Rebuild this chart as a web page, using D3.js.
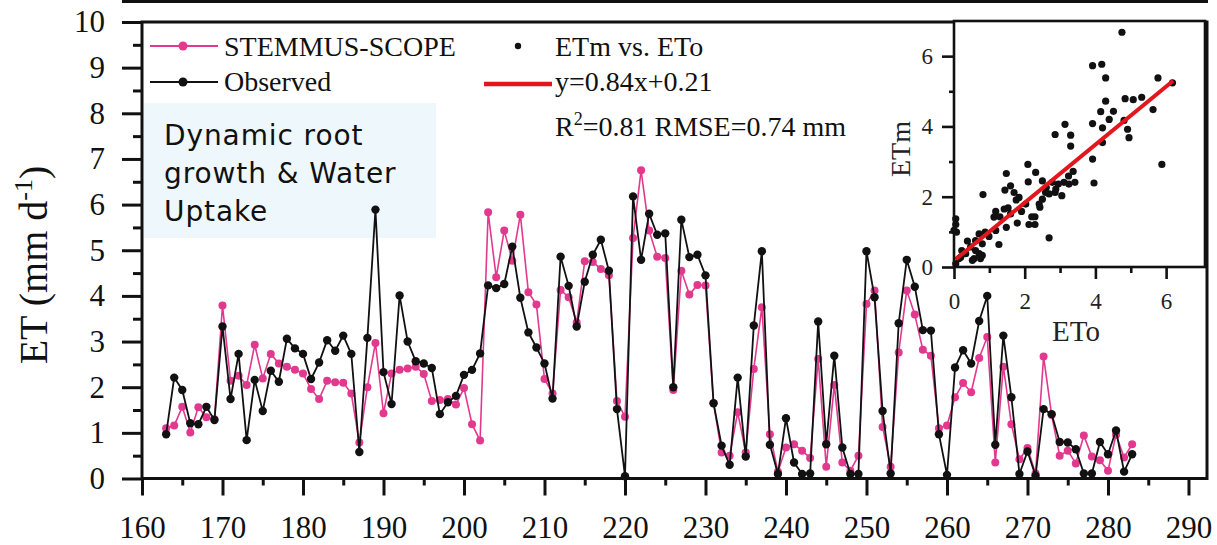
<!DOCTYPE html>
<html>
<head>
<meta charset="utf-8">
<script src="https://cdn.jsdelivr.net/npm/d3@7/dist/d3.min.js"></script>
<style>
  html, body { margin: 0; padding: 0; background: #fff; }
  svg { display: block; }
</style>
</head>
<body>
<svg id="chart" width="1217" height="545"></svg>
<script>
// ---------------- DATA ----------------
const days = d3.range(163, 284); // DOY 163..283
const observed = [
  0.97, 2.21, 1.94, 1.21, 1.19, 1.57, 1.28, 3.33, 1.74, 2.73,
  0.84, 2.16, 1.48, 2.36, 2.12, 3.06, 2.85, 2.73, 2.18, 2.54,
  3.03, 2.80, 3.13, 2.73, 0.58, 3.08, 5.89, 2.33, 1.63, 4.01,
  3.00, 2.57, 2.52, 2.42, 1.41, 1.67, 1.81, 2.27, 2.38, 2.74,
  4.23, 4.17, 4.26, 5.08, 3.96, 3.20, 2.87, 2.52, 1.75, 4.86,
  4.22, 3.33, 4.31, 4.90, 5.23, 4.55, 1.52, 0.05, 6.18, 4.79,
  5.80, 5.34, 5.37, 2.00, 5.67, 4.85, 4.90, 4.45, 1.65, 0.72,
  0.30, 2.21, 0.48, 3.35, 4.98, 0.74, 0.10, 1.32, 0.35, 0.10,
  0.11, 3.44, 0.75, 2.69, 0.68, 0.10, 0.10, 4.98, 3.97, 1.48,
  0.11, 3.40, 4.79, 4.20, 3.25, 3.24, 0.97, 0.08, 2.43, 2.81,
  2.52, 3.45, 4.00, 0.74, 3.13, 1.78, 0.10, 0.59, 0.06, 1.52,
  1.41, 0.80, 0.79, 0.64, 0.11, 0.11, 0.80, 0.53, 1.05, 0.15,
  0.53
];
const modelled = [
  1.10, 1.16, 1.57, 1.01, 1.56, 1.34, 1.30, 3.79, 2.14, 2.25,
  2.05, 2.93, 2.19, 2.73, 2.52, 2.45, 2.38, 2.30, 1.96, 1.74,
  2.14, 2.11, 2.10, 1.86, 0.79, 2.00, 2.97, 1.43, 2.30, 2.38,
  2.41, 2.45, 2.29, 1.70, 1.72, 1.74, 1.62, 1.98, 1.19, 0.83,
  5.83, 4.41, 5.43, 4.77, 5.78, 4.08, 3.81, 2.18, 1.86, 4.13,
  3.97, 3.42, 4.76, 4.74, 4.59, 4.45, 1.70, 1.35, 5.27, 6.75,
  5.43, 4.86, 4.83, 1.94, 4.55, 4.03, 4.24, 4.23, 1.65, 0.57,
  0.50, 1.45, 0.57, 2.40, 3.75, 0.97, 0.15, 0.68, 0.75, 0.61,
  0.45, 2.62, 0.26, 2.05, 0.35, 0.17, 0.50, 3.82, 4.12, 1.13,
  0.26, 2.76, 4.12, 3.59, 2.82, 2.69, 1.10, 1.16, 1.78, 2.09,
  1.89, 2.64, 3.10, 0.35, 2.45, 1.19, 0.42, 0.67, 0.11, 2.67,
  1.39, 0.50, 0.61, 0.33, 0.94, 0.48, 0.40, 0.17, 0.96, 0.46,
  0.75
];
// inset scatter: ETo (x) vs ETm (y)
const scatterETo = [
  4.75, 3.92, 4.18, 4.29, 5.77, 6.18, 4.84, 5.07, 5.31, 4.29,
  4.15, 4.51, 4.39, 5.63, 3.92, 4.20, 4.81, 4.91, 4.95, 3.14,
  2.86, 3.30, 3.30, 4.20, 3.92, 3.96, 5.88, 2.09, 2.31, 1.48,
  2.10, 2.50, 1.60, 1.44, 1.70, 0.82, 2.61, 2.78, 2.95, 3.11,
  3.24, 3.37, 3.42, 3.25, 3.05, 2.86, 2.69, 2.50, 2.41, 2.43,
  1.76, 1.91, 1.53, 1.42, 1.18, 1.30, 1.79, 1.48, 2.20, 2.29,
  2.12, 2.29, 2.69, 1.27, 1.18, 0.99, 0.88, 0.71, 0.61, 0.80,
  0.38, 0.47, 0.61, 0.71, 0.80, 0.57, 0.52, 0.75, 0.05, 0.05,
  0.07, 0.00, 0.14, 0.05, 0.22, 1.84, 2.03, 2.59, 2.88, 1.13,
  1.60, 0.33, 0.19
];
const scatterETm = [
  6.68, 5.73, 5.77, 5.38, 5.38, 5.24, 4.79, 4.76, 4.83, 4.72,
  4.42, 4.43, 4.20, 4.48, 4.08, 3.96, 4.17, 3.92, 3.68, 4.06,
  3.77, 3.75, 3.44, 3.54, 3.07, 2.39, 2.92, 2.92, 2.69, 2.66,
  2.42, 2.45, 2.31, 2.19, 2.12, 2.06, 2.26, 2.41, 2.36, 2.41,
  2.59, 2.72, 2.41, 2.36, 2.03, 2.12, 2.08, 1.93, 1.79, 1.70,
  1.91, 1.58, 1.68, 1.65, 1.58, 1.43, 1.25, 1.13, 1.43, 1.43,
  1.21, 1.21, 0.83, 0.64, 1.04, 0.87, 0.99, 0.94, 0.75, 0.66,
  0.74, 0.57, 0.47, 0.38, 0.33, 0.24, 0.19, 0.24, 1.37, 1.21,
  0.99, 1.04, 0.24, 0.09, 0.47, 1.98, 1.79, 2.12, 2.22, 1.42,
  1.51, 0.38, 0.28
];
// regression line end points (as drawn)
const fitETo = [0.05, 6.2];
const fitETm = [0.22, 5.3];

const xTicksMajor = d3.range(160, 291, 10);
const xTicksMinor = d3.range(165, 291, 10);
const yTicksMajor = d3.range(0, 11, 1);
const yTicksMinor = d3.range(0.5, 10, 1);
const insetTicksMajor = [0, 2, 4, 6];
const insetTicksMinor = [1, 3, 5];

// ---------------- DRAW ----------------
const PINK = "#e2398f";
const BLACK = "#111";
const RED = "#e3161d";
const SERIF = "'Liberation Serif', 'Times New Roman', serif";

const svg = d3.select("#chart");

const x = d3.scaleLinear().domain([160, 292.3]).range([142, 1207]);
const y = d3.scaleLinear().domain([0, 10]).range([478.5, 22]);

// remnant of upper panel
svg.append("line").attr("x1", 122).attr("x2", 1208).attr("y1", 1.5).attr("y2", 1.5)
  .attr("stroke", BLACK).attr("stroke-width", 3);

// annotation box
svg.append("rect").attr("x", 144).attr("y", 103).attr("width", 292).attr("height", 135)
  .attr("fill", "#eef7fb");
const boxText = ["Dynamic root", "growth & Water", "Uptake"];
const boxBase = [145, 183, 221];
boxText.forEach((t, i) => {
  svg.append("text").attr("x", 164).attr("y", boxBase[i])
    .attr("font-family", "'DejaVu Sans', sans-serif").attr("font-size", 28)
    .attr("letter-spacing", 0.9).attr("fill", "#111").text(t);
});

// axes
const gy = svg.append("g").attr("transform", "translate(142,0)")
  .call(d3.axisLeft(y).tickValues(yTicksMajor).tickSize(20).tickPadding(17).tickFormat(d3.format("d")));
svg.append("g").attr("transform", "translate(142,0)")
  .call(d3.axisLeft(y).tickValues(yTicksMinor).tickSize(9).tickFormat(""));
const gx = svg.append("g").attr("transform", "translate(0,478.5)")
  .call(d3.axisBottom(x).tickValues(xTicksMajor).tickSize(17).tickPadding(20).tickFormat(d3.format("d")));
svg.append("g").attr("transform", "translate(0,478.5)")
  .call(d3.axisBottom(x).tickValues(xTicksMinor).tickSize(7).tickFormat(""));
svg.selectAll(".domain").remove();
svg.selectAll(".tick line").attr("stroke", BLACK).attr("stroke-width", 3);
gy.selectAll("text").attr("font-family", SERIF).attr("font-size", 31).attr("fill", BLACK);
gx.selectAll("text").attr("font-family", SERIF).attr("font-size", 31).attr("fill", BLACK);

// frame
svg.append("rect").attr("x", x(160)).attr("y", y(10))
  .attr("width", x(292.3) - x(160)).attr("height", y(0) - y(10))
  .attr("fill", "none").attr("stroke", BLACK).attr("stroke-width", 3);

// y label
const yl = svg.append("text").attr("transform", "translate(47,265) rotate(-90)")
  .attr("text-anchor", "middle").attr("font-family", SERIF).attr("font-size", 40).attr("fill", BLACK);
yl.append("tspan").text("ET (mm d");
yl.append("tspan").attr("font-size", 26).attr("dy", -15).text("-1");
yl.append("tspan").attr("dy", 15).text(")");

// series
const line = d3.line().x((d, i) => x(days[i])).y(d => y(d));
svg.append("path").datum(modelled).attr("d", line).attr("fill", "none")
  .attr("stroke", PINK).attr("stroke-width", 1.6);
svg.append("g").selectAll("circle").data(modelled).join("circle")
  .attr("cx", (d, i) => x(days[i])).attr("cy", d => y(d)).attr("r", 4).attr("fill", PINK);
svg.append("path").datum(observed).attr("d", line).attr("fill", "none")
  .attr("stroke", BLACK).attr("stroke-width", 1.8);
svg.append("g").selectAll("circle").data(observed).join("circle")
  .attr("cx", (d, i) => x(days[i])).attr("cy", d => y(d)).attr("r", 4.2).attr("fill", BLACK);

// legend
const lg = svg.append("g").attr("font-family", SERIF).attr("font-size", 28).attr("fill", BLACK);
lg.append("line").attr("x1", 150).attr("x2", 218).attr("y1", 46).attr("y2", 46).attr("stroke", PINK).attr("stroke-width", 1.8);
lg.append("circle").attr("cx", 183).attr("cy", 46).attr("r", 4.5).attr("fill", PINK);
lg.append("text").attr("x", 224).attr("y", 56).text("STEMMUS-SCOPE");
lg.append("line").attr("x1", 150).attr("x2", 218).attr("y1", 82).attr("y2", 82).attr("stroke", BLACK).attr("stroke-width", 2);
lg.append("circle").attr("cx", 183).attr("cy", 82).attr("r", 4.5).attr("fill", BLACK);
lg.append("text").attr("x", 224).attr("y", 91).text("Observed");
lg.append("circle").attr("cx", 518).attr("cy", 46).attr("r", 3.2).attr("fill", BLACK);
lg.append("text").attr("x", 555).attr("y", 56).text("ETm vs. ETo");
lg.append("line").attr("x1", 484).attr("x2", 552).attr("y1", 84).attr("y2", 84).attr("stroke", RED).attr("stroke-width", 4.5);
lg.append("text").attr("x", 555).attr("y", 91).text("y=0.84x+0.21");
const r2 = lg.append("text").attr("x", 555).attr("y", 136);
r2.append("tspan").text("R");
r2.append("tspan").attr("font-size", 18).attr("dy", -11).text("2");
r2.append("tspan").attr("dy", 11).text("=0.81 RMSE=0.74 mm");

// ---------------- INSET ----------------
const ix = d3.scaleLinear().domain([0, 7.1]).range([954, 1205]);
const iy = d3.scaleLinear().domain([0, 7]).range([267, 21]);
svg.append("rect").attr("x", ix(0)).attr("y", iy(7)).attr("width", ix(7.1) - ix(0))
  .attr("height", iy(0) - iy(7)).attr("fill", "#fff");

const ia1 = svg.append("g").attr("transform", `translate(${ix(0)},0)`)
  .call(d3.axisLeft(iy).tickValues(insetTicksMajor).tickSize(12).tickPadding(9).tickFormat(d3.format("d")));
const ia2 = svg.append("g").attr("transform", `translate(${ix(0)},0)`)
  .call(d3.axisLeft(iy).tickValues(insetTicksMinor).tickSize(5).tickFormat(""));
const ia3 = svg.append("g").attr("transform", `translate(0,${iy(0)})`)
  .call(d3.axisBottom(ix).tickValues(insetTicksMajor).tickSize(12).tickPadding(14).tickFormat(d3.format("d")));
const ia4 = svg.append("g").attr("transform", `translate(0,${iy(0)})`)
  .call(d3.axisBottom(ix).tickValues(insetTicksMinor).tickSize(6).tickFormat(""));
[ia1, ia2, ia3, ia4].forEach(g => {
  g.select(".domain").remove();
  g.selectAll(".tick line").attr("stroke", BLACK).attr("stroke-width", 2.6);
  g.selectAll("text").attr("font-family", SERIF).attr("font-size", 23).attr("fill", "#222");
});

svg.append("g").selectAll("circle").data(scatterETo).join("circle")
  .attr("cx", d => ix(d)).attr("cy", (d, i) => iy(scatterETm[i])).attr("r", 3.6).attr("fill", BLACK);
svg.append("line").attr("x1", ix(fitETo[0])).attr("y1", iy(fitETm[0]))
  .attr("x2", ix(fitETo[1])).attr("y2", iy(fitETm[1]))
  .attr("stroke", RED).attr("stroke-width", 4);

svg.append("rect").attr("x", ix(0)).attr("y", iy(7)).attr("width", ix(7.1) - ix(0))
  .attr("height", iy(0) - iy(7)).attr("fill", "none").attr("stroke", BLACK).attr("stroke-width", 2.6);

svg.append("text").attr("transform", "translate(910,149) rotate(-90)").attr("text-anchor", "middle")
  .attr("font-family", SERIF).attr("font-size", 28).attr("fill", "#222").text("ETm");
svg.append("text").attr("x", 1076).attr("y", 341).attr("text-anchor", "middle")
  .attr("font-family", SERIF).attr("font-size", 29).attr("fill", "#222").text("ETo");
</script>
</body>
</html>
